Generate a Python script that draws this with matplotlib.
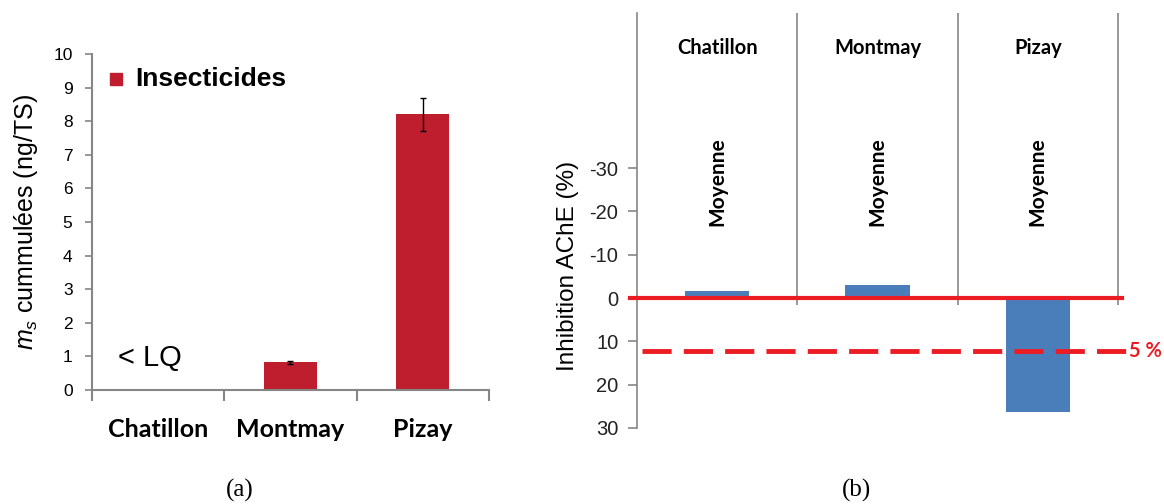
import matplotlib
matplotlib.use('Agg')
import matplotlib.pyplot as plt
import numpy as np

plt.rcParams['font.family'] = ['Liberation Sans', 'DejaVu Sans']
plt.rcParams['mathtext.fontset'] = 'custom'
plt.rcParams['mathtext.it'] = 'Liberation Sans:italic'
plt.rcParams['mathtext.rm'] = 'Liberation Sans'
plt.rcParams['axes.unicode_minus'] = False

# data, panel (a): cumulated insecticide mass
sites = ['Chatillon', 'Montmay', 'Pizay']
ms_values = [0.0, 0.82, 8.2]
ms_err = [0.0, 0.05, 0.5]

# data, panel (b): AChE inhibition (mean per site)
inhib_values = [-1.7, -3.0, 26.4]
inhib_ticks = [-30, -20, -10, 0, 10, 20, 30]
threshold = 12.3  # the "5 %" line

red_bar = '#BE1E2D'
blue_bar = '#4A7EBB'
line_red = '#EC1C24'
grey = '#868686'

fig = plt.figure(figsize=(11.64, 5.04), dpi=100)

# ---------------- panel (a) ----------------
ax1 = fig.add_axes([0.0790, 0.2262, 0.3411, 0.6667])
x = np.arange(len(sites))
ax1.bar(x, ms_values, width=0.4, color=red_bar, zorder=2)
ax1.errorbar(x[1:], ms_values[1:], yerr=ms_err[1:], fmt='none', ecolor='black',
             elinewidth=1, capsize=2.5, capthick=1, zorder=3)
ax1.set_xlim(-0.5, 2.5)
ax1.set_ylim(0, 10)
ax1.set_yticks(range(0, 11))
ax1.tick_params(axis='y', labelsize=12.5, length=5, color=grey, width=1.2, pad=9)
# category boundaries as tick marks, names as minor tick labels
ax1.set_xticks([-0.5, 0.5, 1.5, 2.5])
ax1.set_xticklabels([])
ax1.tick_params(axis='x', which='major', length=8, color=grey, width=1.5)
ax1.set_xticks(x, minor=True)
ax1.set_xticklabels(sites, minor=True, fontfamily='Lato', fontweight='bold', fontsize=18)
ax1.tick_params(axis='x', which='minor', length=0, pad=20)
for s in ['top', 'right']:
    ax1.spines[s].set_visible(False)
for s in ['left', 'bottom']:
    ax1.spines[s].set_color(grey)
    ax1.spines[s].set_linewidth(1.5)
ax1.set_ylabel('$m_s$ cummulées (ng/TS)', fontsize=18)
ax1.yaxis.set_label_coords(-0.13, 0.5)

# legend drawn as marker + text
ax1.plot([0.06], [0.925], marker='s', color=red_bar, markersize=9,
         transform=ax1.transAxes, clip_on=False)
ax1.text(0.11, 0.925, 'Insecticides', transform=ax1.transAxes, fontsize=19,
         fontweight='bold', va='center', ha='left')
ax1.text(-0.3, 0.95, '< LQ', fontsize=21, va='center', ha='left')

# ---------------- panel (b) ----------------
ax2 = fig.add_axes([0.5473, 0.1508, 0.4132, 0.8234])
xb = np.arange(len(sites)) + 0.5
ax2.bar(xb, inhib_values, width=0.4, color=blue_bar, zorder=2)
ax2.set_xlim(0, 3)
ax2.set_ylim(30, -65.8)
ax2.set_yticks(inhib_ticks)
ax2.tick_params(axis='y', labelsize=14.5, length=6.5, color=grey, width=1.2,
                labelcolor='#222222', pad=7)
ax2.set_xticks([])
for s in ['top', 'right', 'bottom']:
    ax2.spines[s].set_visible(False)
ax2.spines['left'].set_color(grey)
ax2.spines['left'].set_linewidth(1.2)

# category separators running from the top down past the zero line
ax2.vlines([1, 2, 3], 1.7, -65.8, color=grey, linewidth=1.2, zorder=1, clip_on=False)

# zero line and threshold line
ax2.plot([-0.045, 3.025], [0, 0], color=line_red, linewidth=3, zorder=3, clip_on=False)
ax2.plot([0.03, 3.06], [threshold, threshold], color=line_red, linewidth=3.5,
         dashes=(6, 2.5), zorder=4, clip_on=False)
ax2.text(3.07, threshold, '5 %', color=line_red, fontfamily='Lato', fontweight='bold',
         fontsize=14.5, va='center', ha='left')

for xi, name in zip(xb, sites):
    ax2.text(xi, 0.9157, name, transform=ax2.get_xaxis_transform(), ha='center',
             va='center', fontfamily='Lato', fontweight='bold', fontsize=14.5)
    ax2.text(xi, 0.593, 'Moyenne', transform=ax2.get_xaxis_transform(), ha='center',
             va='center', rotation=90, fontfamily='Lato', fontweight='bold', fontsize=15)

ax2.set_ylabel('Inhibition AChE (%)', fontsize=17.5)
ax2.yaxis.set_label_coords(-0.12, 0.39)

# panel captions
fig.text(240 / 1164, 1 - 490 / 504, '(a)', fontfamily='Liberation Serif', fontsize=18,
         ha='center', va='center')
fig.text(856 / 1164, 1 - 490 / 504, '(b)', fontfamily='Liberation Serif', fontsize=18,
         ha='center', va='center')

fig.savefig('out.png', dpi=100)
